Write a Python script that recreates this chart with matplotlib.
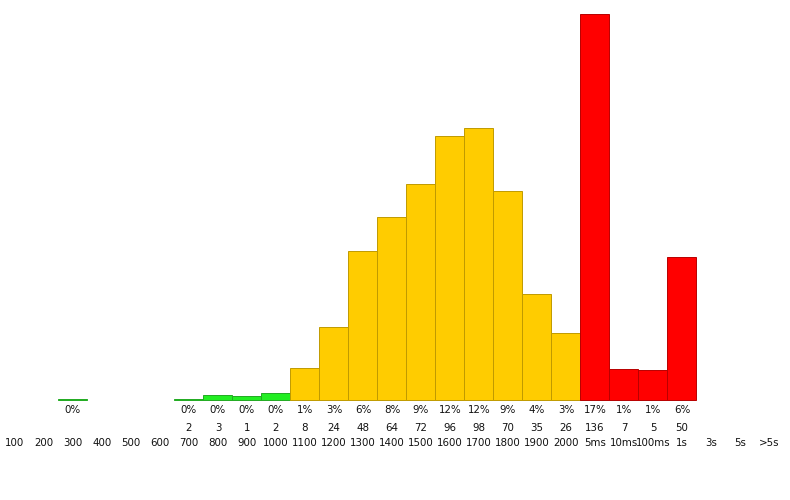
import matplotlib

matplotlib.use("Agg")

import matplotlib.pyplot as plt
import numpy as np

categories = ["100", "200", "300", "400", "500", "600", "700", "800", "900", "1000",
              "1100", "1200", "1300", "1400", "1500", "1600", "1700", "1800", "1900", "2000",
              "5ms", "10ms", "100ms", "1s", "3s", "5s", ">5s"]
# bar heights (baseline-relative)
heights = [0, 0, 1.5, 0, 0, 0, 1.5, 5, 4, 7,
           32, 73, 149, 183, 216, 264, 272, 209, 106, 67,
           386, 31, 30, 143, 0, 0, 0]
counts = ["", "", "", "", "", "", "2", "3", "1", "2",
          "8", "24", "48", "64", "72", "96", "98", "70", "35", "26",
          "136", "7", "5", "50", "", "", ""]
percents = ["", "", "0%", "", "", "", "0%", "0%", "0%", "0%",
            "1%", "3%", "6%", "8%", "9%", "12%", "12%", "9%", "4%", "3%",
            "17%", "1%", "1%", "6%", "", "", ""]
groups = ["g", "g", "g", "g", "g", "g", "g", "g", "g", "g",
          "y", "y", "y", "y", "y", "y", "y", "y", "y", "y",
          "r", "r", "r", "r", "r", "r", "r"]

fill = {"g": "#22ee22", "y": "#ffcc00", "r": "#ff0000"}
edge = {"g": "#22aa22", "y": "#c09a00", "r": "#b80000"}

fig = plt.figure(figsize=(7.9, 5.0), dpi=100)
ax = fig.add_axes([0, 0, 1, 1])
x = np.arange(len(categories))

for i, h in enumerate(heights):
    if h <= 0:
        continue
    g = groups[i]
    ax.bar(x[i], h, width=1.0, color=fill[g], edgecolor=edge[g], linewidth=0.7)

fs = 7.4
for i in x:
    if percents[i]:
        ax.text(i, -10, percents[i], ha="center", va="center", fontsize=fs, color="#111111")
    if counts[i]:
        ax.text(i, -28, counts[i], ha="center", va="center", fontsize=fs, color="#111111")
    ax.text(i, -43, categories[i], ha="center", va="center", fontsize=fs, color="#111111")

ax.set_xlim(-15 / 29, (790 - 15) / 29)
ax.set_ylim(-100, 400)
ax.axis("off")

fig.savefig("out.png", dpi=100)
